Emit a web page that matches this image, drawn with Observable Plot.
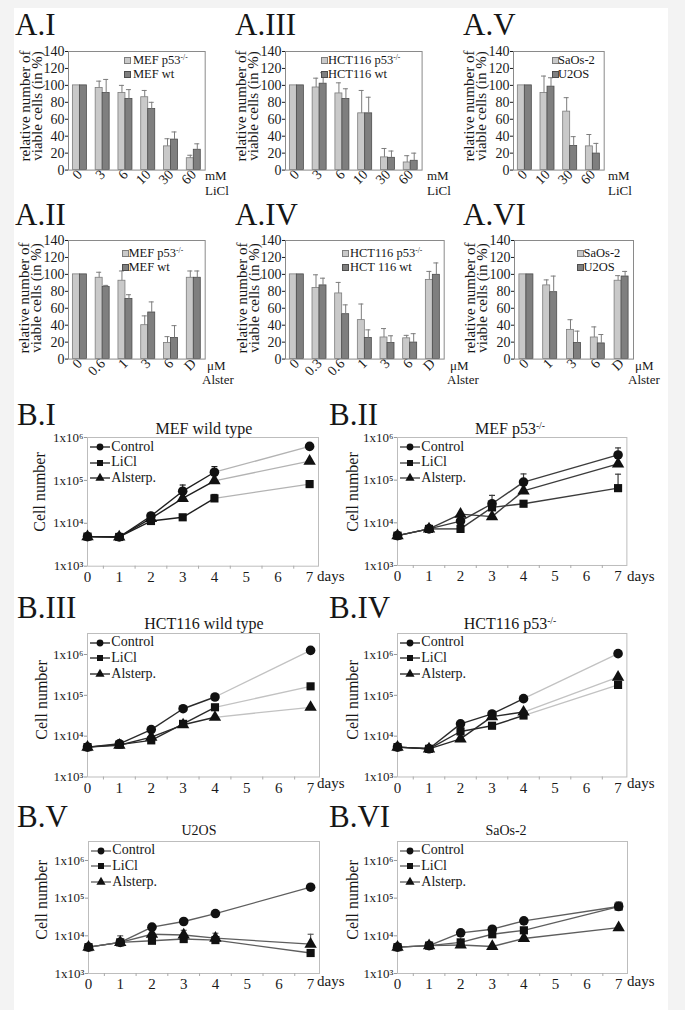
<!DOCTYPE html>
<html><head><meta charset="utf-8">
<script src="https://cdn.jsdelivr.net/npm/d3@7"></script>
<script src="https://cdn.jsdelivr.net/npm/@observablehq/plot@0.6"></script>
<style>
body{margin:0;background:#f3f3f3;}
#fig{position:relative;width:685px;height:1010px;background:#f3f3f3;overflow:hidden;font-family:"Liberation Serif","DejaVu Serif","Noto Serif","Times New Roman",Times,serif;color:#161616;}
#paper{position:absolute;left:14px;top:8px;width:654px;height:1002px;background:#fff;}
.t{position:absolute;white-space:nowrap;}
.sup{font-size:0.6em;vertical-align:0.55em;line-height:0;}
svg{overflow:visible;}
</style></head><body><div id="fig"><div id="paper"></div></div>
<script>
// ---------- DATA: Panel A (relative number of viable cells, %) ----------
const aI_cats = ["0","3","6","10","30","60"];
const aI_p53 = [100, 97, 91, 86, 28, 14];
const aI_p53_err = [0, 8, 9, 8, 9, 3.5];
const aI_wt = [100, 91, 84, 72, 36, 24];
const aI_wt_err = [0, 16, 11, 8, 9, 7];

const aIII_cats = ["0","3","6","10","30","60"];
const aIII_p53 = [100, 97.5, 90.5, 67, 15, 9];
const aIII_p53_err = [0, 11, 12.5, 27, 10.5, 8];
const aIII_wt = [100, 102, 84, 67, 14.5, 11];
const aIII_wt_err = [0, 13, 12, 19, 8, 9];

const aV_cats = ["0","10","30","60"];
const aV_saos = [100, 91, 69, 28];
const aV_saos_err = [0, 20, 16.5, 14];
const aV_u2os = [100, 98.5, 28.5, 19.5];
const aV_u2os_err = [0, 10.5, 11, 12];

const aII_cats = ["0","0.6","1","3","6","D"];
const aII_p53 = [100, 96, 92.5, 40, 19, 96];
const aII_p53_err = [0, 6.5, 11.5, 11, 7.5, 8];
const aII_wt = [100, 85, 71, 55, 25, 96];
const aII_wt_err = [0, 2, 5, 12.5, 14.5, 8];

const aIV_cats = ["0","0.3","0.6","1","3","6","D"];
const aIV_p53 = [100, 84, 77.5, 46, 25.5, 24.5, 93.5];
const aIV_p53_err = [0, 15.5, 13, 19, 10.5, 3.5, 10];
const aIV_wt = [100, 87, 53, 25, 19, 19.5, 99.5];
const aIV_wt_err = [0, 8.5, 11, 9.5, 8.5, 10.5, 14];

const aVI_cats = ["0","1","3","6","D"];
const aVI_saos = [100, 87, 34.5, 25.5, 92.5];
const aVI_saos_err = [0, 6.5, 12, 12.5, 6];
const aVI_u2os = [100, 79, 19, 18.5, 97.5];
const aVI_u2os_err = [0, 19, 14, 10.5, 6];

const aTicks = [0, 20, 40, 60, 80, 100, 120, 140];

// ---------- DATA: Panel B (cell number, log) ----------
const days = [0, 1, 2, 3, 4, 7];
const dayTicks = [0, 1, 2, 3, 4, 5, 6, 7];
const bTicks = [1e3, 1e4, 1e5, 1e6];
const bTickLabels = ["1x10³", "1x10⁴", "1x10⁵", "1x10⁶"];
const bSeriesNames = ["Control", "LiCl", "Alsterp."];

const bI_control = [4900, 4800, 14800, 56000, 155000, 620000];
const bI_control_err = [null, null, null, 78000, 210000, null];
const bI_licl = [4900, 4800, 11300, 13800, 38000, 82000];
const bI_licl_err = [null, null, null, null, 47000, null];
const bI_alst = [4900, 4800, 13000, 38000, 98000, 280000];
const bI_alst_err = [null, null, null, null, null, null];

const bII_control = [5000, 7200, 11000, 28000, 90000, 390000];
const bII_control_err = [null, null, null, 44000, 140000, 570000];
const bII_licl = [5000, 7200, 7200, 23000, 28000, 65000];
const bII_licl_err = [null, null, null, null, null, 138000];
const bII_alst = [5000, 7200, 16000, 14000, 56000, 240000];
const bII_alst_err = [null, null, null, null, null, null];

const bIII_control = [5400, 6500, 14500, 47000, 91000, 1260000];
const bIII_control_err = [null, null, null, null, null, null];
const bIII_licl = [5400, 6200, 7900, 20000, 51000, 166000];
const bIII_licl_err = [null, null, null, null, null, null];
const bIII_alst = [5400, 6000, 9500, 19000, 29000, 51000];
const bIII_alst_err = [null, null, null, null, null, null];

const bIV_control = [5400, 4900, 20000, 35000, 83000, 1050000];
const bIV_control_err = [null, null, null, null, null, null];
const bIV_licl = [5400, 4900, 13000, 18000, 32000, 180000];
const bIV_licl_err = [null, null, null, null, 42000, null];
const bIV_alst = [5400, 4900, 8600, 30000, 39000, 280000];
const bIV_alst_err = [null, null, null, null, null, null];

const bV_control = [5000, 6700, 17000, 24000, 39000, 195000];
const bV_control_err = [null, 10000, null, null, null, null];
const bV_licl = [5000, 6700, 7400, 8200, 7700, 3500];
const bV_licl_err = [null, null, null, null, null, null];
const bV_alst = [5000, 6700, 11000, 10500, 8700, 6000];
const bV_alst_err = [null, null, null, 14000, 11700, 11000];

const bVI_control = [5000, 5500, 12000, 15000, 25000, 60000];
const bVI_control_err = [null, null, null, null, null, null];
const bVI_licl = [5000, 5500, 6700, 11000, 14000, 60000];
const bVI_licl_err = [null, null, null, null, null, 80000];
const bVI_alst = [5000, 5500, 5700, 5200, 8500, 16500];
const bVI_alst_err = [null, null, null, null, null, null];

// ---------- helpers ----------
const FONT = '"Liberation Serif","DejaVu Serif","Noto Serif","Times New Roman",Times,serif';
const fig = document.getElementById("fig");

// place a (possibly multi-line) text block so that its first baseline sits at `base`
function txt(html, x, base, size, opt = {}) {
  const lh = opt.lh || size;
  const d = document.createElement("div");
  d.className = "t";
  d.innerHTML = html;
  d.style.fontSize = size + "px";
  d.style.lineHeight = lh + "px";
  d.style.left = x + "px";
  d.style.top = (base - (lh / 2 + 0.3375 * size)) + "px";
  if (opt.anchor === "middle") d.style.transform = "translateX(-50%)";
  fig.appendChild(d);
  return d;
}
function vtxt(html, cx, cy, size, lh) {
  const d = document.createElement("div");
  d.className = "t";
  d.innerHTML = html;
  d.style.fontSize = size + "px";
  d.style.lineHeight = (lh || size) + "px";
  d.style.textAlign = "center";
  d.style.left = cx + "px";
  d.style.top = cy + "px";
  d.style.transform = "translate(-50%,-50%) rotate(-90deg)";
  fig.appendChild(d);
}
function place(svg, left, top) {
  svg.style.position = "absolute";
  svg.style.left = left + "px";
  svg.style.top = top + "px";
  svg.style.overflow = "visible";
  fig.appendChild(svg);
}

function barPanel({left, top, width, cats, s1, e1, s2, e2}) {
  const H = 118.6, mL = 40, mR = 6, mT = 4, mB = 34;
  const bw = width / cats.length, barW = 7, gap = (bw - 2 * barW) / 2;
  const r1 = cats.map((c, i) => ({cat: c, v: s1[i], e: e1[i]}));
  const r2 = cats.map((c, i) => ({cat: c, v: s2[i], e: e2[i]}));
  const c1 = gap + barW / 2, c2 = gap + 1.5 * barW, cap = 2.5;
  const errColor = "#7c7c7c";
  const svg = Plot.plot({
    width: width + mL + mR, height: H + mT + mB,
    marginLeft: mL, marginRight: mR, marginTop: mT, marginBottom: mB,
    style: {fontFamily: FONT, fontSize: "14px", background: "transparent", overflow: "visible", color: "#1a1a1a"},
    x: {domain: cats, padding: 0, round: false, label: null, tickSize: 0, tickPadding: 2, tickRotate: -45},
    y: {domain: [0, 140], ticks: aTicks, label: null, tickSize: 3, tickPadding: 1},
    marks: [
      Plot.barY(r1, {x: "cat", y: "v", fill: "#c9c9c9", stroke: "#7d7d7d", strokeWidth: 0.8, insetLeft: gap, insetRight: bw - gap - barW}),
      Plot.barY(r2, {x: "cat", y: "v", fill: "#7f7f7f", stroke: "#4d4d4d", strokeWidth: 0.8, insetLeft: gap + barW, insetRight: gap}),
      Plot.ruleX(r1.filter(d => d.e > 0), {x: "cat", y1: "v", y2: d => d.v + d.e, dx: c1 - bw / 2, stroke: errColor}),
      Plot.ruleX(r2.filter(d => d.e > 0), {x: "cat", y1: "v", y2: d => d.v + d.e, dx: c2 - bw / 2, stroke: errColor}),
      Plot.tickY(r1.filter(d => d.e > 0), {x: "cat", y: d => d.v + d.e, insetLeft: c1 - cap, insetRight: bw - c1 - cap, stroke: errColor}),
      Plot.tickY(r2.filter(d => d.e > 0), {x: "cat", y: d => d.v + d.e, insetLeft: c2 - cap, insetRight: bw - c2 - cap, stroke: errColor}),
      Plot.frame({stroke: "#8a8a8a"})
    ]
  });
  place(svg, left - mL, top - mT);
}

function legendA(sx, tx, base, labels) {
  const fills = ["#c9c9c9", "#7f7f7f"], strokes = ["#7d7d7d", "#4d4d4d"];
  const gapY = 14.5, size = 12.5;
  labels.forEach((l, i) => {
    const b = base + i * gapY;
    const s = document.createElement("div");
    s.style.cssText = `position:absolute;left:${sx}px;top:${b - 7.5}px;width:5px;height:5px;background:${fills[i]};border:1px solid ${strokes[i]};`;
    fig.appendChild(s);
  });
  txt(labels.join("<br>"), tx, base, size, {lh: gapY});
}

const capSymbol = {draw(ctx, size) { const r = Math.sqrt(size / Math.PI); ctx.moveTo(-r, 0); ctx.lineTo(r, 0); }};

function growthPanel({left, top, width, height, yMax, series, early, late}) {
  const mL = 46, mR = 6, mT = 4, mB = 30;
  const linksEarly = [], linksLate = [], errs = [];
  const pts = {circle: [], square: [], triangle: []};
  series.forEach(s => {
    s.vals.forEach((v, i) => {
      pts[s.sym].push({d: days[i], v});
      if (s.err[i]) errs.push({d: days[i], v, e: s.err[i]});
      if (i < s.vals.length - 1) {
        const l = {x1: days[i], y1: v, x2: days[i + 1], y2: s.vals[i + 1]};
        (days[i + 1] > 4 ? linksLate : linksEarly).push(l);
      }
    });
  });
  const svg = Plot.plot({
    width: width + mL + mR, height: height + mT + mB,
    marginLeft: mL, marginRight: mR, marginTop: mT, marginBottom: mB,
    style: {fontFamily: FONT, fontSize: "13px", background: "transparent", overflow: "visible", color: "#1a1a1a"},
    x: {domain: [0, 7.28], label: null},
    y: {type: "log", domain: [1e3, yMax], label: null},
    marks: [
      Plot.frame({stroke: "#bdbdbd"}),
      Plot.axisY({ticks: bTicks, tickFormat: d => bTickLabels[bTicks.indexOf(d)], tickSize: 3, tickPadding: 1, fontSize: 13, stroke: "#999"}),
      Plot.axisX({ticks: dayTicks, tickFormat: d => String(d), tickSize: 0, tickPadding: 5, fontSize: 15}),
      Plot.axisX({ticks: dayTicks.slice(0, 7).map(d => d + 0.5), tickFormat: () => "", tickSize: 3, stroke: "#aaa"}),
      Plot.link(linksLate, {x1: "x1", y1: "y1", x2: "x2", y2: "y2", stroke: late, strokeWidth: 1.3}),
      Plot.link(linksEarly, {x1: "x1", y1: "y1", x2: "x2", y2: "y2", stroke: early, strokeWidth: 1.4}),
      Plot.ruleX(errs, {x: "d", y1: "v", y2: "e", stroke: early, strokeWidth: 1.2}),
      Plot.dot(errs, {x: "d", y: "e", symbol: capSymbol, r: 3, stroke: early, fill: "none", strokeWidth: 1.2}),
      Plot.dot(pts.circle, {x: "d", y: "v", symbol: "circle", r: 4.8, fill: "#111"}),
      Plot.dot(pts.square, {x: "d", y: "v", symbol: "square", r: 4.6, fill: "#111"}),
      Plot.dot(pts.triangle, {x: "d", y: "v", symbol: "triangle", r: 4.6, fill: "#111"})
    ]
  });
  place(svg, left - mL, top - mT);
}

function legendB(fx, ft, color) {
  const syms = [d3.symbolCircle, d3.symbolSquare, d3.symbolTriangle];
  const base0 = ft + 14, gapY = 15.8, size = 14;
  bSeriesNames.forEach((n, i) => {
    const cy = base0 + i * gapY - 4.5;
    const s = d3.create("svg").attr("width", 22).attr("height", 12)
      .style("position", "absolute").style("left", (fx + 2) + "px").style("top", (cy - 6) + "px").style("overflow", "visible");
    s.append("line").attr("x1", 1).attr("x2", 21).attr("y1", 6).attr("y2", 6).attr("stroke", color).attr("stroke-width", 1.3);
    s.append("path").attr("d", d3.symbol(syms[i], Math.PI * 3.4 * 3.4)()).attr("transform", "translate(11,6)").attr("fill", "#111");
    fig.appendChild(s.node());
  });
  txt(bSeriesNames.join("<br>"), fx + 24, base0, size, {lh: gapY});
}

const KO = '<span class="sup">-/-</span>';

// ---------- Panel A ----------
const aPanels = [
  {lab: "A.I", lx: 15, lb: 35, left: 68.3, top: 50.7, width: 136.7, cats: aI_cats, s1: aI_p53, e1: aI_p53_err, s2: aI_wt, e2: aI_wt_err,
   leg: [124, 133, 64, ["MEF p53" + KO, "MEF wt"]], ytx: 31, yty: 106, u: "mM<br>LiCl", ux: 205, ub: 181},
  {lab: "A.III", lx: 235, lb: 35, left: 284.7, top: 50.7, width: 136.6, cats: aIII_cats, s1: aIII_p53, e1: aIII_p53_err, s2: aIII_wt, e2: aIII_wt_err,
   leg: [321, 328, 64, ["HCT116 p53" + KO, "HCT116 wt"]], ytx: 247, yty: 106, u: "mM<br>LiCl", ux: 427, ub: 181},
  {lab: "A.V", lx: 463, lb: 35, left: 513.3, top: 50.7, width: 90.7, cats: aV_cats, s1: aV_saos, e1: aV_saos_err, s2: aV_u2os, e2: aV_u2os_err,
   leg: [552, 558, 64, ["SaOs-2", "U2OS"]], ytx: 475, yty: 106, u: "mM<br>LiCl", ux: 608, ub: 181},
  {lab: "A.II", lx: 15, lb: 225, left: 68.3, top: 240, width: 136.7, cats: aII_cats, s1: aII_p53, e1: aII_p53_err, s2: aII_wt, e2: aII_wt_err,
   leg: [122, 128.5, 257, ["MEF p53" + KO, "MEF wt"]], ytx: 30, yty: 298, u: '<span style="margin-left:5px">μM</span><br>Alster', ux: 202, ub: 370.5},
  {lab: "A.IV", lx: 235, lb: 225, left: 285.3, top: 240, width: 158.7, cats: aIV_cats, s1: aIV_p53, e1: aIV_p53_err, s2: aIV_wt, e2: aIV_wt_err,
   leg: [342, 350, 257, ["HCT116 p53" + KO, "HCT 116 wt"]], ytx: 248, yty: 298, u: '<span style="margin-left:3px">μM</span><br>Alster', ux: 447, ub: 370.5},
  {lab: "A.VI", lx: 463, lb: 225, left: 514.3, top: 240, width: 119, cats: aVI_cats, s1: aVI_saos, e1: aVI_saos_err, s2: aVI_u2os, e2: aVI_u2os_err,
   leg: [577, 583.5, 257, ["SaOs-2", "U2OS"]], ytx: 476, yty: 298, u: '<span style="margin-left:7px">μM</span><br>Alster', ux: 628, ub: 370.5}
];
aPanels.forEach(p => {
  barPanel(p);
  txt(p.lab, p.lx, p.lb, 31);
  legendA(p.leg[0], p.leg[1], p.leg[2], p.leg[3]);
  vtxt("relative number of<br>viable cells (in %)", p.ytx, p.yty, 15, 12);
  txt(p.u, p.ux, p.ub, 13, {lh: 14.5});
});

// ---------- Panel B ----------
const mk = (c, ce, l, le, a, ae) => [
  {vals: c, err: ce, sym: "circle"},
  {vals: l, err: le, sym: "square"},
  {vals: a, err: ae, sym: "triangle"}
];
const bPanels = [
  {lab: "B.I", lx: 17, lb: 425, title: "MEF wild type", tx: 204, tb: 434, left: 87.3, top: 437.3, width: 231, height: 128.7, yMax: 1e6,
   series: mk(bI_control, bI_control_err, bI_licl, bI_licl_err, bI_alst, bI_alst_err), early: "#1e1e1e", late: "#b3b3b3", ytx: 40, yty: 492, days: [317, 582]},
  {lab: "B.II", lx: 329, lb: 425, title: "MEF p53" + KO, tx: 510, tb: 434, left: 397.3, top: 437.3, width: 229.4, height: 128, yMax: 1e6,
   series: mk(bII_control, bII_control_err, bII_licl, bII_licl_err, bII_alst, bII_alst_err), early: "#3c3c3c", late: "#3c3c3c", ytx: 353, yty: 492, days: [627, 582]},
  {lab: "B.III", lx: 17, lb: 618, title: "HCT116 wild type", tx: 204, tb: 629, left: 87.3, top: 633, width: 232, height: 143.5, yMax: 3.27e6,
   series: mk(bIII_control, bIII_control_err, bIII_licl, bIII_licl_err, bIII_alst, bIII_alst_err), early: "#2a2a2a", late: "#c2c2c2", ytx: 41.5, yty: 700, days: [317, 789]},
  {lab: "B.IV", lx: 329, lb: 618, title: "HCT116 p53" + KO, tx: 510, tb: 629, left: 397.3, top: 633, width: 229.4, height: 143.5, yMax: 3.27e6,
   series: mk(bIV_control, bIV_control_err, bIV_licl, bIV_licl_err, bIV_alst, bIV_alst_err), early: "#2a2a2a", late: "#c2c2c2", ytx: 353, yty: 700, days: [627, 789]},
  {lab: "B.V", lx: 17, lb: 827, title: "U2OS", tx: 199, tb: 836, left: 88.3, top: 841, width: 231, height: 132, yMax: 3.19e6,
   series: mk(bV_control, bV_control_err, bV_licl, bV_licl_err, bV_alst, bV_alst_err), early: "#5e5e5e", late: "#5e5e5e", ytx: 42, yty: 900, days: [317, 987]},
  {lab: "B.VI", lx: 329, lb: 827, title: "SaOs-2", tx: 506, tb: 836, left: 397.3, top: 841, width: 230, height: 132, yMax: 3.19e6,
   series: mk(bVI_control, bVI_control_err, bVI_licl, bVI_licl_err, bVI_alst, bVI_alst_err), early: "#5e5e5e", late: "#5e5e5e", ytx: 353, yty: 900, days: [627, 987]}
];
bPanels.forEach(p => {
  growthPanel(p);
  txt(p.lab, p.lx, p.lb, 31);
  txt(p.title, p.tx, p.tb, p.title.length < 8 ? 14 : 16, {anchor: "middle"});
  legendB(p.left, p.top, p.early === p.late ? p.early : "#1e1e1e");
  vtxt("Cell number", p.ytx, p.yty, 16);
  txt("days", p.days[0], p.days[1], 15);
});
</script></body></html>
